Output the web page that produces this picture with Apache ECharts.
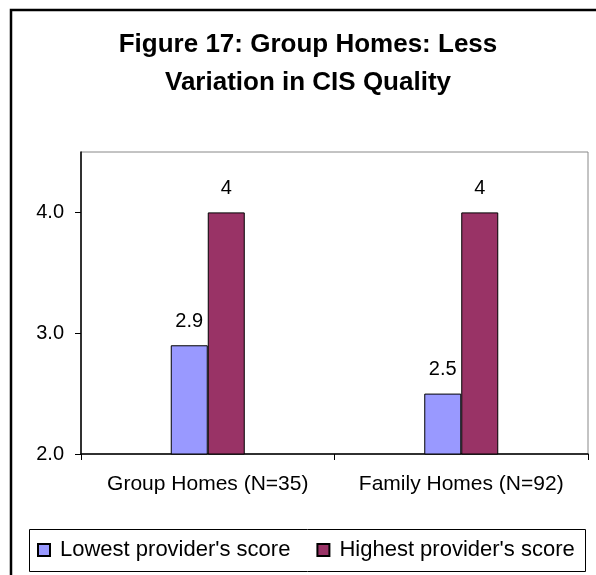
<!DOCTYPE html>
<html>
<head>
<meta charset="utf-8">
<script src="https://cdn.jsdelivr.net/npm/echarts@6/dist/echarts.min.js"></script>
<style>
html,body{margin:0;padding:0;background:#fff;}
#chart{width:596px;height:575px;}
</style>
</head>
<body>
<div id="chart"></div>
<script>
var categories = ['Group Homes (N=35)', 'Family Homes (N=92)'];
var lowestScores = [2.9, 2.5];
var highestScores = [4, 4];
var seriesNames = ["Lowest provider's score", "Highest provider's score"];
var yTicks = [2, 3, 4];

var font = "'Liberation Sans', Arial, sans-serif";
var chart = echarts.init(document.getElementById('chart'));
chart.setOption({
  backgroundColor: '#ffffff',
  animation: false,
  textStyle: { fontFamily: font, color: '#000' },
  title: {
    text: 'Figure 17: Group Homes: Less\nVariation in CIS Quality',
    left: 308,
    textAlign: 'center',
    top: 26,
    padding: 0,
    textStyle: { fontFamily: font, fontSize: 26, fontWeight: 'bold', color: '#000', lineHeight: 38 }
  },
  graphic: [
    { type: 'rect', z: -1, shape: { x: 11, y: 10, width: 700, height: 700 },
      style: { fill: 'none', stroke: '#000', lineWidth: 2.5 } },
    { type: 'rect', z: -1, shape: { x: 29.5, y: 529.5, width: 556, height: 42 },
      style: { fill: 'none', stroke: '#000', lineWidth: 1 } }
  ],
  legend: {
    left: 37,
    top: 539,
    padding: 0,
    itemWidth: 12,
    itemHeight: 12,
    itemGap: 26,
    icon: 'rect',
    textStyle: { fontFamily: font, fontSize: 22, color: '#000', padding: [0, 0, 0, 5] },
    data: seriesNames
  },
  grid: {
    left: 81, right: 8, top: 152, bottom: 121,
    show: true, borderColor: '#888', borderWidth: 1, backgroundColor: 'transparent'
  },
  xAxis: {
    type: 'category',
    data: categories,
    axisLine: { show: true, lineStyle: { color: '#000', width: 1.5 } },
    axisTick: { show: true, length: 6, lineStyle: { color: '#000' } },
    axisLabel: { fontFamily: font, fontSize: 21, color: '#000', margin: 20, interval: 0 },
    splitLine: { show: false }
  },
  yAxis: {
    type: 'value',
    min: 2, max: 4.5, interval: 1,
    axisLine: { show: true, lineStyle: { color: '#000', width: 1.5 } },
    axisTick: { show: true, length: 6, lineStyle: { color: '#000' }, customValues: yTicks },
    axisLabel: { fontFamily: font, fontSize: 20, color: '#000', margin: 17, customValues: yTicks,
      formatter: function (v) { return v.toFixed(1); } },
    splitLine: { show: false }
  },
  series: [
    {
      name: seriesNames[0], type: 'bar', data: lowestScores,
      barWidth: 37, barGap: '0%',
      itemStyle: { color: '#9999FF', borderColor: '#000', borderWidth: 1 },
      label: { show: true, position: 'top', distance: 14, fontFamily: font, fontSize: 20, color: '#000' }
    },
    {
      name: seriesNames[1], type: 'bar', data: highestScores,
      barWidth: 37, barGap: '0%',
      itemStyle: { color: '#993366', borderColor: '#000', borderWidth: 1 },
      label: { show: true, position: 'top', distance: 14, fontFamily: font, fontSize: 20, color: '#000' }
    }
  ]
});
</script>
</body>
</html>
